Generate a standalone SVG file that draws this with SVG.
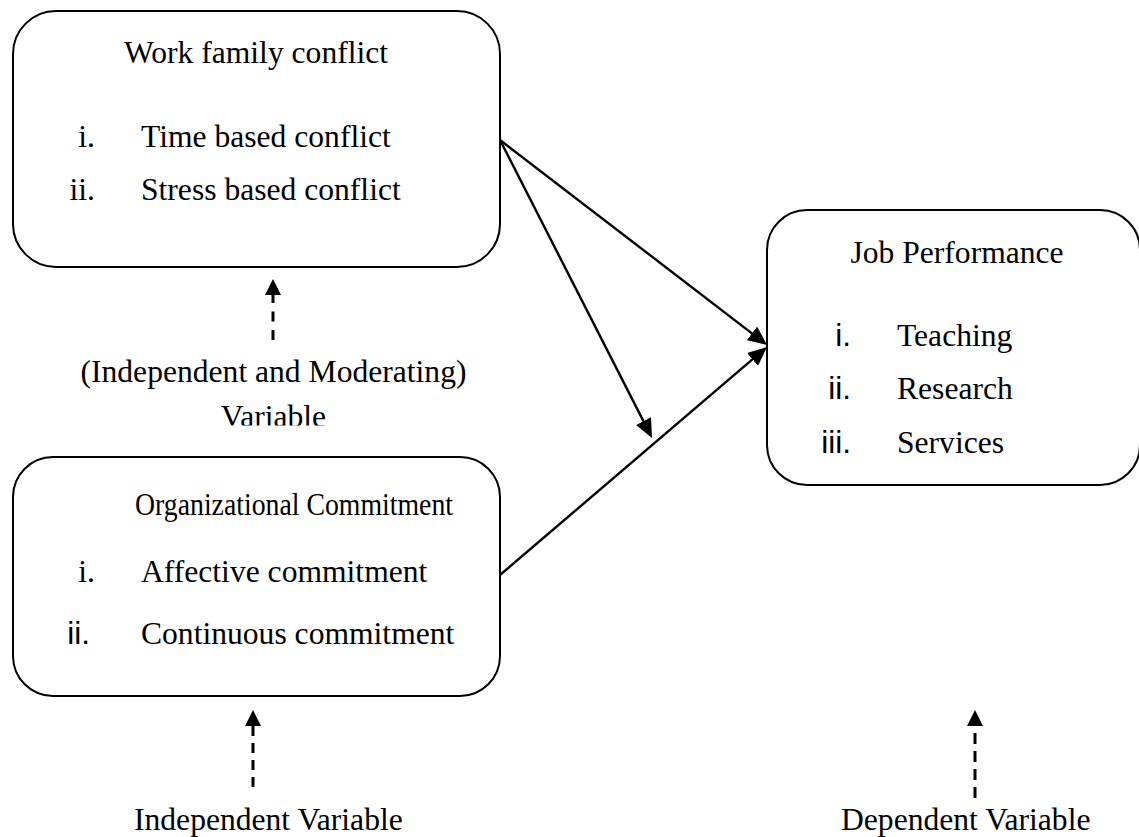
<svg xmlns="http://www.w3.org/2000/svg" width="1139" height="837" viewBox="0 0 1139 837">
<style>
.box{fill:#fff;stroke:#000;stroke-width:2}
.t{font-family:"Liberation Serif","Times New Roman",serif;font-size:31.6px;fill:#000}
.s{font-family:"Liberation Sans",Arial,sans-serif;font-size:31.6px;fill:#000}
.c{stroke:#000;stroke-width:2.4;fill:none}
.d{stroke:#000;stroke-width:3;fill:none}
</style>
<defs>
<marker id="ah" markerUnits="userSpaceOnUse" markerWidth="20" markerHeight="17" refX="11" refY="8.5" orient="auto" viewBox="0 0 20 17">
<path d="M0,0 L19,8.5 L0,17 z" fill="#000"/>
</marker>
<clipPath id="clipVar"><rect x="0" y="390" width="520" height="35.5"/></clipPath>
</defs>
<rect width="1139" height="837" fill="#fff"/>
<g id="work-family-conflict">
<rect class="box" x="13" y="11" width="487" height="256" rx="43" ry="43"/>
<text class="t" x="256" y="63" text-anchor="middle">Work family conflict</text>
<text class="t" x="95" y="147" text-anchor="end">i.</text>
<text class="t" x="141" y="147">Time based conflict</text>
<text class="t" x="95" y="200" text-anchor="end">ii.</text>
<text class="t" x="141" y="200">Stress based conflict</text>
</g>
<g id="organizational-commitment">
<rect class="box" x="13" y="457" width="487" height="239" rx="40" ry="40"/>
<text class="t" x="135" y="515" textLength="318" lengthAdjust="spacingAndGlyphs">Organizational Commitment</text>
<text class="t" x="95" y="582" text-anchor="end">i.</text>
<text class="t" x="141" y="582">Affective commitment</text>
<text class="s" x="90" y="644" text-anchor="end">ii.</text>
<text class="t" x="141" y="644">Continuous commitment</text>
</g>
<g id="job-performance">
<rect class="box" x="767" y="210" width="373" height="275" rx="40" ry="40"/>
<text class="t" x="957" y="263" text-anchor="middle">Job Performance</text>
<text class="s" x="851" y="346" text-anchor="end">i.</text>
<text class="t" x="897" y="346">Teaching</text>
<text class="s" x="851" y="399" text-anchor="end">ii.</text>
<text class="t" x="897" y="399">Research</text>
<text class="s" x="851" y="453" text-anchor="end">iii.</text>
<text class="t" x="897" y="453">Services</text>
</g>
<g id="labels">
<text class="t" x="273.5" y="382" text-anchor="middle">(Independent and Moderating)</text>
<text class="t" x="273.5" y="427" text-anchor="middle" clip-path="url(#clipVar)">Variable</text>
<text class="t" x="134" y="830">Independent Variable</text>
<text class="t" x="841" y="830">Dependent Variable</text>
</g>
<g id="connectors">
<line class="c" x1="500" y1="140" x2="760.7" y2="340.1" marker-end="url(#ah)"/>
<line class="c" x1="500" y1="140" x2="648.4" y2="430.9" marker-end="url(#ah)"/>
<line class="c" x1="500" y1="575" x2="760.9" y2="352.2" marker-end="url(#ah)"/>
<line class="d" x1="273" y1="340" x2="273" y2="294" stroke-dasharray="10 8.5"/>
<path d="M273,279 L281,295 L265,295 z" fill="#000"/>
<line class="d" x1="253" y1="787" x2="253" y2="724" stroke-dasharray="10 7"/>
<path d="M253,710 L261,726 L245,726 z" fill="#000"/>
<line class="d" x1="975" y1="798" x2="975" y2="724" stroke-dasharray="11 7"/>
<path d="M975,710 L983,726 L967,726 z" fill="#000"/>
</g>
</svg>
